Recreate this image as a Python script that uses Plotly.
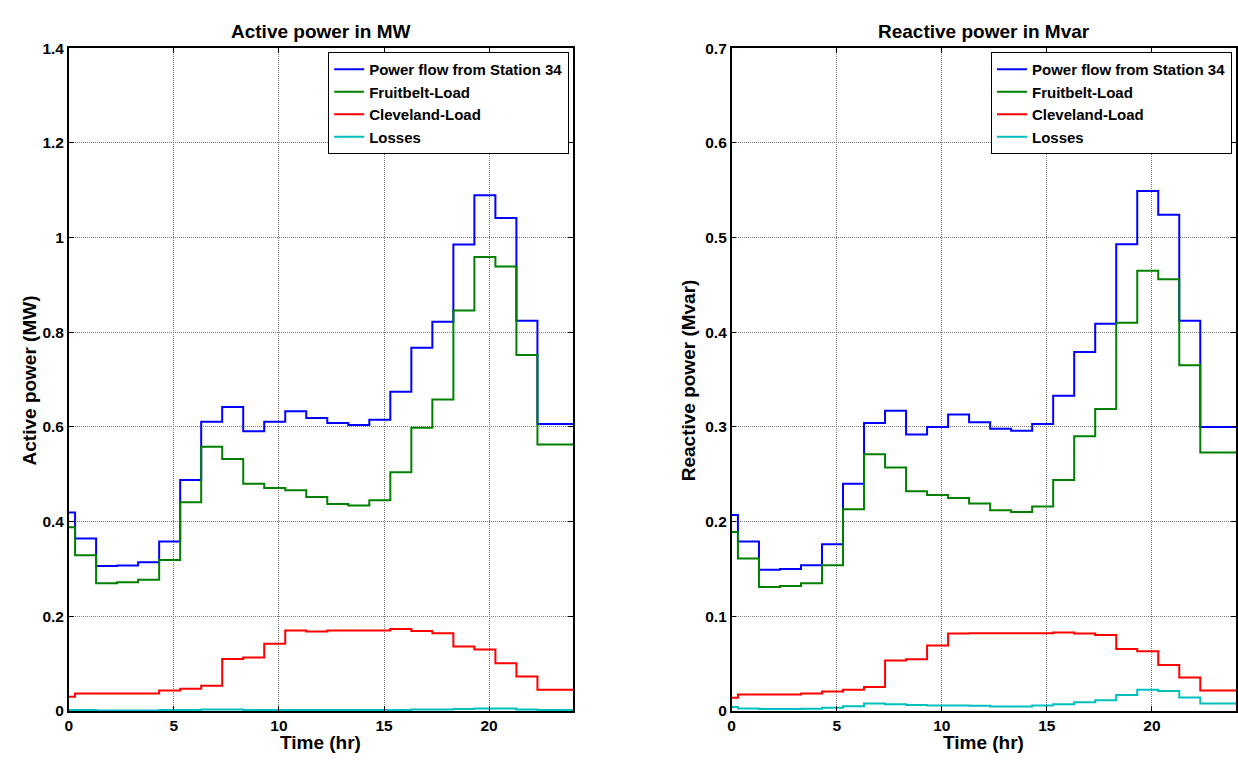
import plotly.graph_objects as go

# Time (hr): start of each hourly step
time_hr = [0, 0.3, 1.3, 2.3, 3.3, 4.3, 5.3, 6.3, 7.3, 8.3, 9.3, 10.3, 11.3,
           12.3, 13.3, 14.3, 15.3, 16.3, 17.3, 18.3, 19.3, 20.3, 21.3, 22.3]
t_end = 24

series_names = ["Power flow from Station 34", "Fruitbelt-Load", "Cleveland-Load", "Losses"]
series_colors = ["#0000FF", "#008000", "#FF0000", "#00BFBF"]

# Active power (MW)
P_station = [0.419, 0.364, 0.306, 0.307, 0.314, 0.358, 0.488, 0.611, 0.642, 0.591, 0.611, 0.633,
             0.619, 0.608, 0.604, 0.615, 0.674, 0.767, 0.822, 0.985, 1.089, 1.041, 0.824, 0.606]
P_fruit = [0.388, 0.329, 0.270, 0.272, 0.277, 0.319, 0.441, 0.558, 0.532, 0.480, 0.471, 0.466,
           0.452, 0.437, 0.434, 0.445, 0.504, 0.598, 0.658, 0.846, 0.959, 0.939, 0.752, 0.563]
P_cleve = [0.030, 0.037, 0.037, 0.037, 0.037, 0.043, 0.047, 0.053, 0.110, 0.113, 0.142, 0.170,
           0.168, 0.170, 0.170, 0.170, 0.173, 0.169, 0.164, 0.136, 0.130, 0.101, 0.073, 0.045]
P_loss = [0.002, 0.002, 0.001, 0.001, 0.001, 0.002, 0.002, 0.003, 0.003, 0.002, 0.002, 0.002,
          0.002, 0.002, 0.002, 0.002, 0.002, 0.003, 0.003, 0.004, 0.005, 0.005, 0.003, 0.002]

# Reactive power (Mvar)
Q_station = [0.207, 0.179, 0.149, 0.150, 0.154, 0.176, 0.240, 0.304, 0.317, 0.292, 0.300, 0.313,
             0.305, 0.298, 0.296, 0.303, 0.333, 0.379, 0.409, 0.493, 0.549, 0.524, 0.412, 0.300]
Q_fruit = [0.189, 0.161, 0.131, 0.132, 0.135, 0.154, 0.213, 0.271, 0.257, 0.232, 0.228, 0.225,
           0.219, 0.212, 0.210, 0.216, 0.244, 0.290, 0.319, 0.410, 0.465, 0.456, 0.365, 0.273]
Q_cleve = [0.014, 0.0175, 0.0175, 0.0175, 0.0185, 0.0206, 0.0223, 0.0254, 0.0534, 0.0545, 0.0692, 0.0819,
           0.082, 0.082, 0.082, 0.082, 0.0829, 0.0819, 0.0802, 0.0655, 0.063, 0.0486, 0.0353, 0.0216]
Q_loss = [0.0041, 0.0027, 0.0021, 0.0021, 0.0024, 0.0034, 0.0051, 0.0079, 0.0072, 0.0062, 0.0058, 0.0058,
          0.0055, 0.0048, 0.0048, 0.0058, 0.0072, 0.0092, 0.0113, 0.0168, 0.0223, 0.0212, 0.0141, 0.0079]

x_ticks = [0, 5, 10, 15, 20]
P_ticks = [0, 0.2, 0.4, 0.6, 0.8, 1, 1.2, 1.4]
P_tick_text = ["0", "0.2", "0.4", "0.6", "0.8", "1", "1.2", "1.4"]
Q_ticks = [0, 0.1, 0.2, 0.3, 0.4, 0.5, 0.6, 0.7]
Q_tick_text = ["0", "0.1", "0.2", "0.3", "0.4", "0.5", "0.6", "0.7"]

FONT = "Liberation Sans, Arial, sans-serif"
W, H = 1238, 761

fig = go.Figure()

xs = time_hr + [t_end]
for i, vals in enumerate([P_station, P_fruit, P_cleve, P_loss]):
    fig.add_trace(go.Scatter(x=xs, y=vals + [vals[-1]], mode="lines", line_shape="hv",
                             line=dict(color=series_colors[i], width=2), name=series_names[i],
                             xaxis="x", yaxis="y", legend="legend"))
for i, vals in enumerate([Q_station, Q_fruit, Q_cleve, Q_loss]):
    fig.add_trace(go.Scatter(x=xs, y=vals + [vals[-1]], mode="lines", line_shape="hv",
                             line=dict(color=series_colors[i], width=2), name=series_names[i],
                             xaxis="x2", yaxis="y2", legend="legend2"))

L_x0, L_x1 = 65, 571
R_x0, R_x1 = 730, 1236
Y_top, Y_bot = 40, 718
ydom = [1 - Y_bot / H, 1 - Y_top / H]

axis_common = dict(showline=True, linecolor="black", linewidth=1.5, mirror="allticks",
                   ticks="inside", ticklen=5, tickcolor="black", showgrid=True,
                   gridcolor="#7a7a7a", griddash="1px,1px", gridwidth=1, zeroline=False,
                   tickfont=dict(family=FONT, size=15.5, color="black", weight="bold"))

legend_common = dict(yanchor="top", xanchor="right", bgcolor="white",
                     bordercolor="black", borderwidth=1, tracegroupgap=0, itemwidth=30,
                     font=dict(family=FONT, size=15, color="black", weight="bold"))

fig.update_layout(
    width=W, height=H, margin=dict(l=0, r=0, t=0, b=0),
    paper_bgcolor="white", plot_bgcolor="white",
    xaxis=dict(domain=[L_x0 / W, L_x1 / W], range=[0, 24], tickvals=x_ticks, anchor="y", **axis_common),
    yaxis=dict(domain=ydom, range=[0, 1.4], tickvals=P_ticks, ticktext=P_tick_text, anchor="x", **axis_common),
    xaxis2=dict(domain=[R_x0 / W, R_x1 / W], range=[0, 24], tickvals=x_ticks, anchor="y2", **axis_common),
    yaxis2=dict(domain=ydom, range=[0, 0.7], tickvals=Q_ticks, ticktext=Q_tick_text, anchor="x2", **axis_common),
    legend=dict(x=567 / W, y=1 - 44 / H, **legend_common),
    legend2=dict(x=1232 / W, y=1 - 44 / H, **legend_common),
    showlegend=True,
)

tfont = dict(family=FONT, size=19, color="black", weight="bold")
ann = [
    dict(text="Active power in MW", x=(L_x0 + L_x1) / 2 / W, y=1 - 23 / H),
    dict(text="Reactive power in Mvar", x=(R_x0 + R_x1) / 2 / W, y=1 - 23 / H),
    dict(text="Time (hr)", x=(L_x0 + L_x1) / 2 / W, y=1 - 750 / H),
    dict(text="Time (hr)", x=(R_x0 + R_x1) / 2 / W, y=1 - 750 / H),
    dict(text="Active power (MW)", x=26 / W, y=1 - 380 / H, textangle=-90),
    dict(text="Reactive power (Mvar)", x=687 / W, y=1 - 380 / H, textangle=-90),
]
for a in ann:
    fig.add_annotation(xref="paper", yref="paper", xanchor="center", yanchor="middle",
                       showarrow=False, font=tfont, **a)

fig.write_html("out.html")
